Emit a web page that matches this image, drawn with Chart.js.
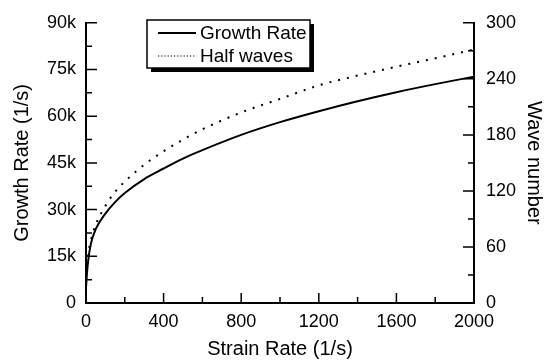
<!DOCTYPE html>
<html>
<head>
<meta charset="utf-8">
<script src="https://cdn.jsdelivr.net/npm/chart.js@4/dist/chart.umd.min.js"></script>
<style>
  html, body { margin: 0; padding: 0; background: #fff; }
  #wrap { width: 546px; height: 362px; }
</style>
</head>
<body>
<div id="wrap"><canvas id="chart" width="546" height="362"></canvas></div>
<script>
// values
const strainRate = [0, 5, 10, 25, 50, 100, 150, 200, 300, 400, 500, 600, 800, 1000, 1200, 1400, 1600, 1800, 2000];
const growthRate = [5000, 9500, 13000, 19000, 23700, 28700, 32400, 35300, 39800, 43200, 46400, 49100, 54000, 58100, 61600, 64800, 67700, 70300, 72700];
const halfWaves  = [40, 47, 53, 67, 84, 104, 119, 130, 148, 162.5, 175, 186, 204, 218.5, 233, 243.5, 253, 262, 271.5];

const seriesNames = ['Growth Rate', 'Half waves'];
const xTicks = [0, 400, 800, 1200, 1600, 2000];

const font = 'Liberation Sans, Arial, Helvetica, sans-serif';

function pts(ys) {
    return strainRate.map((x, i) => ({ x: x, y: ys[i] }));
}

// ticks pointing into the plot, majors and minors
const inwardTicks = {
    id: 'inwardTicks',
    afterDraw(chart) {
        const ctx = chart.ctx;
        const a = chart.chartArea;
        ctx.save();
        ctx.strokeStyle = '#000';
        ctx.lineWidth = 1.5;
        ctx.beginPath();
        const xs = chart.scales.x;
        for (let v = 0; v <= 2000; v += 200) {
            const p = xs.getPixelForValue(v);
            const len = v % 400 === 0 ? 10 : 6;
            ctx.moveTo(p, a.bottom); ctx.lineTo(p, a.bottom - len);
        }
        const yl = chart.scales.y;
        for (let v = 0; v <= 90000; v += 7500) {
            const p = yl.getPixelForValue(v);
            const len = v % 15000 === 0 ? 11 : 6;
            ctx.moveTo(a.left, p); ctx.lineTo(a.left + len, p);
        }
        const yr = chart.scales.y1;
        for (let v = 0; v <= 300; v += 30) {
            const p = yr.getPixelForValue(v);
            const len = v % 60 === 0 ? 11 : 6;
            ctx.moveTo(a.right, p); ctx.lineTo(a.right - len, p);
        }
        ctx.stroke();
        ctx.restore();
    }
};

// boxed legend with a drop shadow
const boxLegend = {
    id: 'boxLegend',
    afterDraw(chart) {
        const ctx = chart.ctx;
        const bx = 147, by = 20, bw = 163, bh = 48;
        ctx.save();
        ctx.fillStyle = '#000';
        ctx.fillRect(bx + 4, by + 4, bw, bh);
        ctx.fillStyle = '#fff';
        ctx.fillRect(bx, by, bw, bh);
        ctx.strokeStyle = '#000';
        ctx.lineWidth = 1.5;
        ctx.strokeRect(bx, by, bw, bh);
        ctx.font = '19px ' + font;
        ctx.textBaseline = 'middle';
        chart.data.datasets.forEach((ds, i) => {
            const y = by + 13 + i * 23;
            ctx.beginPath();
            ctx.lineWidth = i === 0 ? 2 : 1.2;
            ctx.setLineDash(i === 0 ? [] : [1.2, 2]);
            ctx.moveTo(158, y); ctx.lineTo(196, y);
            ctx.stroke();
            ctx.setLineDash([]);
            ctx.fillStyle = '#000';
            ctx.fillText(ds.label, 200, y + 1);
        });
        ctx.restore();
    }
};

new Chart(document.getElementById('chart'), {
    type: 'line',
    data: {
        datasets: [{
            label: seriesNames[0],
            data: pts(growthRate),
            yAxisID: 'y',
            borderColor: '#000',
            borderWidth: 2,
            pointRadius: 0,
            cubicInterpolationMode: 'monotone',
            fill: false
        }, {
            label: seriesNames[1],
            data: pts(halfWaves),
            yAxisID: 'y1',
            borderColor: '#000',
            borderWidth: 2,
            borderDash: [2, 7],
            pointRadius: 0,
            cubicInterpolationMode: 'monotone',
            fill: false
        }]
    },
    options: {
        responsive: false,
        animation: false,
        layout: { padding: { top: 15, left: 0, right: 0, bottom: 0 } },
        plugins: { legend: { display: false }, tooltip: { enabled: false } },
        scales: {
            x: {
                type: 'linear', min: 0, max: 2000,
                afterFit(s) { s.height = 59; },
                afterBuildTicks(s) { s.ticks = xTicks.map(v => ({ value: v })); },
                grid: { display: false, drawTicks: false },
                border: { display: true, color: '#000', width: 2 },
                ticks: { color: '#000', autoSkip: false, maxRotation: 0, padding: 8, font: { family: font, size: 18 },
                         callback: v => String(v) },
                title: { display: true, text: 'Strain Rate (1/s)', color: '#000', padding: { top: 0, bottom: 1 }, font: { family: font, size: 20 } }
            },
            y: {
                type: 'linear', position: 'left', min: 0, max: 90000,
                afterFit(s) { s.width = 86; },
                grid: { display: false, drawTicks: false },
                border: { display: true, color: '#000', width: 2 },
                ticks: {
                    stepSize: 15000, color: '#000', padding: 10, font: { family: font, size: 18 },
                    callback: v => v === 0 ? '0' : (v / 1000) + 'k'
                },
                title: { display: true, text: 'Growth Rate (1/s)', color: '#000', padding: { top: 10 }, font: { family: font, size: 20 } }
            },
            y1: {
                type: 'linear', position: 'right', min: 0, max: 300,
                afterFit(s) { s.width = 72; },
                grid: { display: false, drawTicks: false },
                border: { display: true, color: '#000', width: 2 },
                ticks: { stepSize: 60, color: '#000', padding: 12, font: { family: font, size: 18 } },
                title: { display: true, text: 'Wave number', color: '#000', padding: { top: 0, bottom: 0 }, font: { family: font, size: 20 } }
            }
        }
    },
    plugins: [inwardTicks, boxLegend]
});
</script>
</body>
</html>
